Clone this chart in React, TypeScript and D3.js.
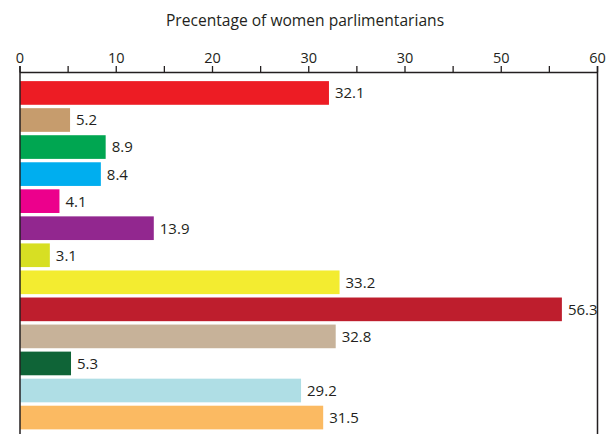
import React from 'react';
import * as d3 from 'd3';

const values = [32.1, 5.2, 8.9, 8.4, 4.1, 13.9, 3.1, 33.2, 56.3, 32.8, 5.3, 29.2, 31.5];
const colors = [
  '#ed1c24', '#c69c6d', '#00a651', '#00aeef', '#ec008c', '#92278f', '#d7df23',
  '#f3ec30', '#be1e2d', '#c7b299', '#0f6437', '#afdee5', '#fbba62',
];
const majorTicks = [0, 10, 20, 30, 40, 50, 60];
const tickLabels = ['0', '10', '20', '30', '30', '50', '60'];
const minorTicks = [5, 15, 25, 35, 45, 55];
const title = 'Precentage of women parlimentarians';

const W = 611;
const H = 434;
const ink = '#231f20';
const font = '"Open Sans", sans-serif';

const App = () => {
  const x = d3.scaleLinear().domain([0, 60]).range([20, 597.5]);
  const y = d3
    .scaleBand<number>()
    .domain(values.map((_, i) => i))
    .range([79.5, 431])
    .paddingInner(0.125)
    .paddingOuter(0.06);

  const axisY = 72.5;

  return (
    <svg
      width={W}
      height={H}
      style={{ position: 'absolute', left: 0, top: 0, background: '#fff' }}
      fontFamily={font}
    >
      <text x={305} y={26} textAnchor="middle" fontSize={15.6} fill={ink}>
        {title}
      </text>

      {values.map((v, i) => (
        <g key={i}>
          <rect
            x={x(0)}
            y={y(i)}
            width={x(v) - x(0)}
            height={y.bandwidth()}
            fill={colors[i]}
          />
          <text
            x={x(v) + 6}
            y={(y(i) as number) + y.bandwidth() / 2}
            dy="0.36em"
            fontSize={15}
            fill={ink}
          >
            {v.toFixed(1)}
          </text>
        </g>
      ))}

      {/* frame sides */}
      <line x1={x(0)} x2={x(0)} y1={66} y2={H} stroke={ink} strokeWidth={1.5} />
      <line x1={x(60)} x2={x(60)} y1={66} y2={H} stroke={ink} strokeWidth={1.5} />

      {/* top axis */}
      <line x1={x(0)} x2={x(60)} y1={axisY} y2={axisY} stroke={ink} strokeWidth={1.5} />
      {majorTicks.concat(minorTicks).map(t => (
        <line key={t} x1={x(t)} x2={x(t)} y1={66} y2={axisY} stroke={ink} strokeWidth={1.3} />
      ))}
      {majorTicks.map((t, i) => (
        <text key={t} x={x(t)} y={62.5} textAnchor="middle" fontSize={14.5} fill={ink}>
          {tickLabels[i]}
        </text>
      ))}
    </svg>
  );
};

export default App;
